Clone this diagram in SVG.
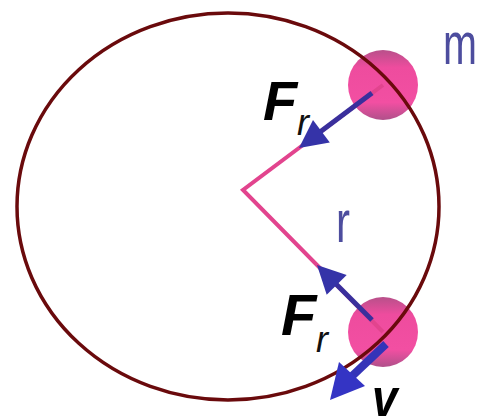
<svg xmlns="http://www.w3.org/2000/svg" width="480" height="419" viewBox="0 0 480 419">
  <defs>
    <linearGradient id="ballGrad" x1="0" y1="0" x2="0" y2="1">
      <stop offset="0" stop-color="#b8508a"/>
      <stop offset="0.25" stop-color="#ee4c9e"/>
      <stop offset="0.75" stop-color="#f24fa2"/>
      <stop offset="1" stop-color="#b0508a"/>
    </linearGradient>
    <style>
      .ball { fill: url(#ballGrad); }
      .orbit { fill: none; stroke: #6a0a0c; stroke-width: 3.5; }
      .radius { fill: none; stroke: #e2448e; stroke-width: 4; stroke-linejoin: miter; }
      .shaft { stroke: #3a2f9c; stroke-width: 5; fill: none; }
      .head { fill: #3533a8; }
      .vel { stroke: #3434b8; stroke-width: 8; fill: none; }
      .velhead { fill: #3434c4; }
      .force { font-family: "Liberation Sans", Arial, sans-serif; font-weight: bold; font-style: italic; fill: #000; }
      .sub { font-family: "Liberation Sans", Arial, sans-serif; font-style: italic; fill: #111; }
      .sym { font-family: "Liberation Sans", Arial, sans-serif; fill: #4d4d9e; }
    </style>
  </defs>
  <rect width="480" height="419" fill="#ffffff"/>

  <g id="mass-top">
    <circle class="ball" cx="383" cy="85" r="35"/>
  </g>
  <g id="mass-bottom">
    <circle class="ball" cx="383" cy="332" r="35"/>
  </g>

  <g id="orbit">
    <ellipse class="orbit" cx="228" cy="206.5" rx="211" ry="193.5"/>
  </g>

  <g id="connectors">
    <polyline class="radius" points="383,85 243,190 383,332"/>
    <!-- Fr on top mass -->
    <line class="shaft" x1="372" y1="93" x2="318" y2="133.5"/>
    <polygon class="head" points="299,148 313,120 329.8,142.4"/>
    <!-- Fr on bottom mass -->
    <line class="shaft" x1="372" y1="320" x2="335" y2="283"/>
    <polygon class="head" points="317,265 346.7,275.1 326.7,294.7"/>
    <!-- velocity -->
    <line class="vel" x1="386" y1="344" x2="350" y2="378"/>
    <polygon class="velhead" points="330,400 339,362 365,386"/>
  </g>

  <g id="labels">
    <text class="sym" transform="translate(443,64) scale(0.68,1)" font-size="60">m</text>
    <text class="sym" transform="translate(336,242) scale(0.7,1)" font-size="60">r</text>
    <text class="force" x="263" y="120" font-size="56">F</text>
    <text class="sub" x="297" y="135" font-size="36">r</text>
    <text class="force" x="281" y="335" font-size="58">F</text>
    <text class="sub" x="316" y="352" font-size="36">r</text>
    <text class="force" transform="translate(372,416) scale(0.85,1)" font-size="54" font-style="normal">v</text>
  </g>
</svg>
